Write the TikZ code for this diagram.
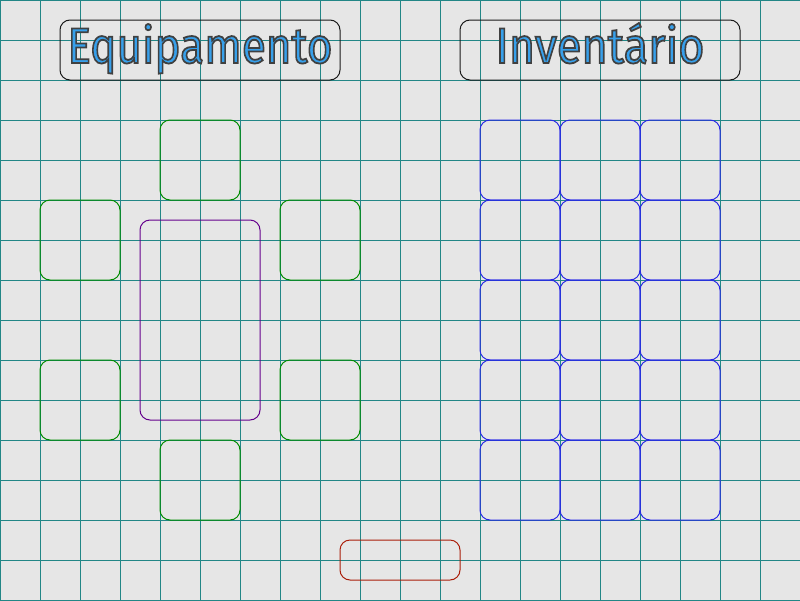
\documentclass[tikz,border=0pt]{standalone}
\usepackage{fontspec}
\newfontfamily\titlefont{Fira Sans}
\definecolor{bg}{RGB}{230,230,230}
\definecolor{gridc}{RGB}{34,134,134}
\definecolor{eqgreen}{RGB}{0,140,0}
\definecolor{eqpurple}{RGB}{100,0,140}
\definecolor{invblue}{RGB}{40,40,230}
\definecolor{trashred}{RGB}{170,30,10}
\definecolor{titlefill}{RGB}{55,160,235}
\newcommand{\outlinedtext}[1]{\special{pdf:literal 0.25 0.25 0.25 RG 1.8 w 2 Tr}#1\special{pdf:literal 0 Tr}}
\tikzset{
  titlebox/.style={draw=black!90, line width=1pt, rounded corners=10pt, minimum width=280pt, minimum height=60pt, inner sep=0pt},
  titletext/.style={anchor=base, inner sep=0pt, text=titlefill, font=\titlefont\fontsize{50}{50}\selectfont},
  slotbox/.style={line width=1pt, rounded corners=10pt, inner sep=0pt, outer sep=0pt},
  eqslot/.style={slotbox, draw=eqgreen, minimum width=80pt, minimum height=80pt},
  bodyslot/.style={slotbox, draw=eqpurple, minimum width=120pt, minimum height=200pt},
  invslot/.style={slotbox, draw=invblue, minimum width=80pt, minimum height=80pt},
  trashslot/.style={slotbox, draw=trashred, minimum width=120pt, minimum height=40pt},
  gridline/.style={draw=gridc, line width=1pt}
}
\begin{document}
\begin{tikzpicture}[x=1pt,y=-1pt]
\useasboundingbox (0,0) rectangle (800,600);
\fill[bg] (0,0) rectangle (800,600);
\foreach \gx in {0,40,...,800} { \draw[gridline] (\gx,0) -- (\gx,600); }
\foreach \gy in {0,40,...,600} { \draw[gridline] (0,\gy) -- (800,\gy); }
% titles
\node[titlebox] (eqbox) at (200,50) {};
\node[titlebox] (invbox) at (600,50) {};
\node[titletext] (eqtext) at (200,63) {\scalebox{0.88}[1]{\outlinedtext{Equipamento}}};
\node[titletext] (invtext) at (600,63) {\scalebox{0.9}[1]{\outlinedtext{Inventário}}};
% equipment
\node[eqslot] (head) at (200,160) {};
\node[eqslot] (lefthand) at (80,240) {};
\node[eqslot] (righthand) at (320,240) {};
\node[eqslot] (leftlow) at (80,400) {};
\node[eqslot] (rightlow) at (320,400) {};
\node[eqslot] (feet) at (200,480) {};
\node[bodyslot] (body) at (200,320) {};
% trash
\node[trashslot] (trash) at (400,560) {};
% inventory
\foreach \r in {0,...,4} {
  \foreach \c in {0,...,2} {
    \node[invslot] (inv-\r-\c) at (520+80*\c,160+80*\r) {};
  }
}
\end{tikzpicture}
\end{document}
